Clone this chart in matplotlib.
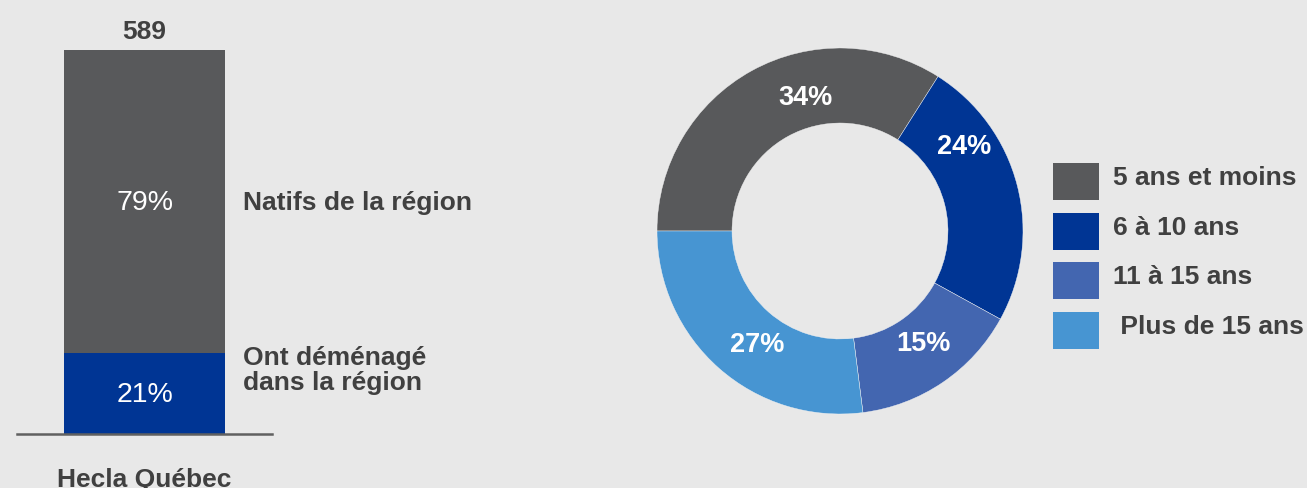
import numpy as np
import matplotlib.pyplot as plt

plt.rcParams['font.family'] = ['Liberation Sans', 'DejaVu Sans']

# bar data (Hecla Québec)
bar_category = 'Hecla Québec'
bar_total = 589
bar_labels = ['Ont déménagé\ndans la région', 'Natifs de la région']
bar_values = [21, 79]
bar_colors = ['#003594', '#58595b']

# donut data
donut_labels = ['5 ans et moins', '6 à 10 ans', '11 à 15 ans', ' Plus de 15 ans']
donut_values = [34, 24, 15, 27]
donut_colors = ['#58595b', '#003594', '#4366b0', '#4795d2']

bg = '#e8e8e8'
txt = '#404040'
W, H = 1307, 489

fig = plt.figure(figsize=(W / 100, H / 100), dpi=100, facecolor=bg)

def px_axes(x0, y0, x1, y1):
    # axes from pixel box (top-left origin)
    return fig.add_axes([x0 / W, 1 - y1 / H, (x1 - x0) / W, (y1 - y0) / H])

# ---- stacked bar ----
ax = px_axes(17, 51, 272, 435)
ax.set_facecolor(bg)
bottom = 0
for v, c in zip(bar_values, bar_colors):
    ax.bar(0, v, width=0.635, bottom=bottom, color=c)
    bottom += v
ax.set_xlim(-0.5, 0.5)
ax.set_ylim(0, 100)
for s in ['top', 'left', 'right']:
    ax.spines[s].set_visible(False)
ax.spines['bottom'].set_color('#606060')
ax.spines['bottom'].set_linewidth(1.8)
ax.set_yticks([])
ax.set_xticks([0], [bar_category])
ax.tick_params(axis='x', length=0, pad=24, labelsize=19, labelcolor=txt)
for t in ax.get_xticklabels():
    t.set_fontweight('bold')

# segment labels
bottom = 0
for i, (v, lab) in enumerate(zip(bar_values, bar_labels)):
    mid = bottom + v / 2
    ax.text(0, mid, f'{v}%', ha='center', va='center', color='white', fontsize=20.5)
    ly = mid if i == 1 else bottom + v - 4.2
    ax.text(0.386, ly, lab, ha='left', va='center', color=txt, fontsize=19,
            fontweight='bold', linespacing=1.05)
    bottom += v
ax.annotate(str(bar_total), xy=(0, 100), xytext=(0, 8.6), textcoords='offset points',
            ha='center', va='baseline', fontsize=19, fontweight='bold', color=txt)

# ---- donut ----
ax2 = px_axes(657, 49, 1023, 415)
wedges, _ = ax2.pie(donut_values, colors=donut_colors, startangle=180, counterclock=False,
                    wedgeprops=dict(width=0.41, edgecolor='#f4f4f4', linewidth=0.3))
ax2.set_xlim(-1, 1)
ax2.set_ylim(-1, 1)
ax2.set_aspect('equal')
label_ang = [104.5, 34.4, -53.4, -126.4]
label_r = [0.755, 0.825, 0.765, 0.764]
for v, a, r in zip(donut_values, label_ang, label_r):
    ax2.text(r * np.cos(np.radians(a)), r * np.sin(np.radians(a)), f'{v}%',
             ha='center', va='center', color='white', fontsize=19.5, fontweight='bold')

# ---- legend ----
ax3 = px_axes(1053, 164, 1307, 350)
ax3.axis('off')
rows = np.arange(len(donut_labels))
ax3.barh(rows, 1, height=0.745, left=0, color=donut_colors)
ax3.set_xlim(0, 254 / 46)
ax3.set_ylim(3 + 0.3725, -0.3725)
for r, lab in zip(rows, donut_labels):
    ax3.text(1.3, r + 0.052, lab, ha='left', va='baseline', color=txt,
             fontsize=19, fontweight='bold')

fig.savefig('out.png', dpi=100, facecolor=bg)
